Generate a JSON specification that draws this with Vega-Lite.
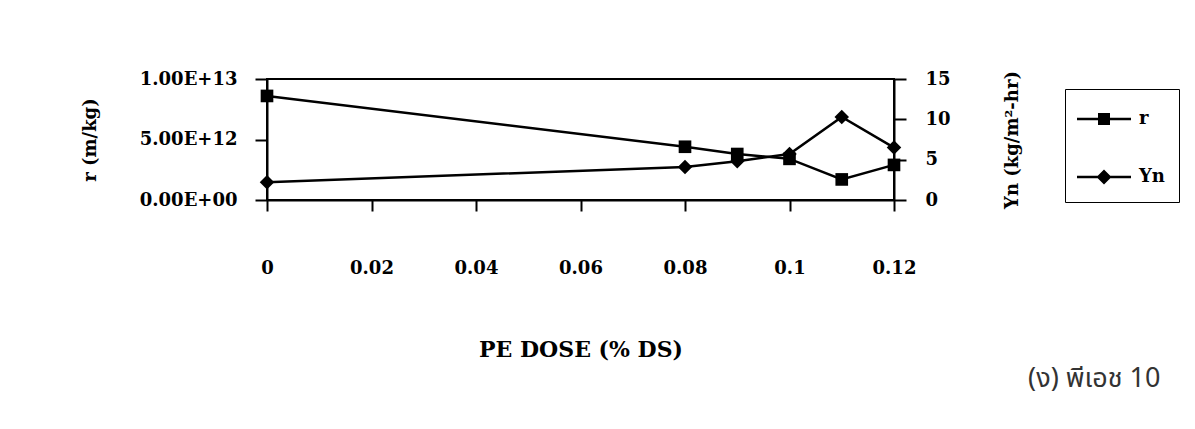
{
  "$schema": "https://vega.github.io/schema/vega-lite/v6.json",
  "width": 627,
  "height": 121,
  "autosize": "none",
  "padding": {"left": 267, "top": 79, "right": 301, "bottom": 229},
  "background": "white",
  "config": {
    "view": {"stroke": "black", "strokeWidth": 2},
    "axis": {
      "grid": false,
      "domainColor": "black",
      "domainWidth": 2,
      "tickColor": "black",
      "tickWidth": 2,
      "labelFont": "DejaVu Serif",
      "labelFontWeight": "bold",
      "labelFontSize": 18,
      "labelColor": "black",
      "titleFont": "DejaVu Serif",
      "titleFontWeight": "bold",
      "titleFontSize": 18,
      "titleColor": "black"
    }
  },
  "title": {
    "text": "(ง) พีเอช 10",
    "orient": "bottom",
    "anchor": "end",
    "frame": "bounds",
    "font": "Noto Sans Thai, Noto Sans, DejaVu Sans, sans-serif",
    "fontSize": 27,
    "fontWeight": "normal",
    "color": "#333333",
    "offset": 0,
    "dx": -19,
    "dy": 6
  },
  "data": {
    "values": [
      {"dose": 0, "r": 8.6e12, "Yn": 2.2},
      {"dose": 0.08, "r": 4.4e12, "Yn": 4.1},
      {"dose": 0.09, "r": 3.8e12, "Yn": 4.8},
      {"dose": 0.1, "r": 3.4e12, "Yn": 5.7},
      {"dose": 0.11, "r": 1.7e12, "Yn": 10.3},
      {"dose": 0.12, "r": 2.9e12, "Yn": 6.5}
    ]
  },
  "encoding": {
    "x": {
      "field": "dose",
      "type": "quantitative",
      "scale": {"domain": [0, 0.12], "nice": false, "zero": false},
      "axis": {
        "title": "PE DOSE (% DS)",
        "values": [0, 0.02, 0.04, 0.06, 0.08, 0.1, 0.12],
        "format": ".2~f",
        "labelFlush": false,
        "tickSize": 11,
        "labelPadding": 48,
        "titlePadding": 62,
        "titleFontSize": 22,
        "encode": {"ticks": {"update": {"y": {"value": -11}}}}
      }
    }
  },
  "layer": [
    {
      "encoding": {
        "y": {
          "field": "r",
          "type": "quantitative",
          "scale": {"domain": [0, 1e13], "nice": false},
          "axis": {
            "title": "r (m/kg)",
            "orient": "left",
            "values": [0, 5e12, 1e13],
            "labelExpr": "datum.value == 0 ? '0.00E+00' : upper(format(datum.value, '.2e'))",
            "tickSize": 12,
            "labelPadding": 18,
            "titlePadding": 40,
            "encode": {"ticks": {"update": {"x": {"value": 12}}}}
          }
        }
      },
      "layer": [
        {"mark": {"type": "line", "color": "black", "strokeWidth": 2.5}},
        {"mark": {"type": "point", "shape": "square", "filled": true, "color": "black", "opacity": 1, "size": 160}},
        {
          "mark": {"type": "point", "filled": true, "color": "black", "size": 0},
          "encoding": {
            "shape": {
              "datum": "r",
              "scale": {
                "domain": ["r", "Yn"],
                "range": [
                  "M-1.8,-0.08H1.8V0.08H-1.8ZM-0.4,-0.4H0.4V0.4H-0.4Z",
                  "M-1.8,-0.08H1.8V0.08H-1.8ZM-0.5,0L0,-0.5L0.5,0L0,0.5Z"
                ]
              },
              "legend": {
                "title": null,
                "orient": "none",
                "legendX": 798,
                "legendY": 10,
                "strokeColor": "black",
                "padding": 14,
                "symbolSize": 900,
                "symbolOffset": 9,
                "symbolFillColor": "black",
                "symbolOpacity": 1,
                "labelFont": "DejaVu Serif",
                "labelFontWeight": "bold",
                "labelFontSize": 18,
                "labelColor": "black",
                "labelOffset": 19,
                "rowPadding": 33,
                "encode": {
                  "legend": {"update": {"strokeWidth": {"value": 2}}}
                }
              }
            }
          }
        }
      ]
    },
    {
      "encoding": {
        "y": {
          "field": "Yn",
          "type": "quantitative",
          "scale": {"domain": [0, 15], "nice": false},
          "axis": {
            "title": "Yn (kg/m²-hr)",
            "orient": "right",
            "values": [0, 5, 10, 15],
            "tickSize": 12,
            "labelPadding": 19,
            "titlePadding": 71,
            "titleAngle": 270,
            "encode": {"ticks": {"update": {"x": {"value": -12}}}}
          }
        }
      },
      "layer": [
        {"mark": {"type": "line", "color": "black", "strokeWidth": 2.5}},
        {"mark": {"type": "point", "shape": "diamond", "filled": true, "color": "black", "opacity": 1, "size": 210}}
      ]
    }
  ],
  "resolve": {"scale": {"y": "independent"}}
}
